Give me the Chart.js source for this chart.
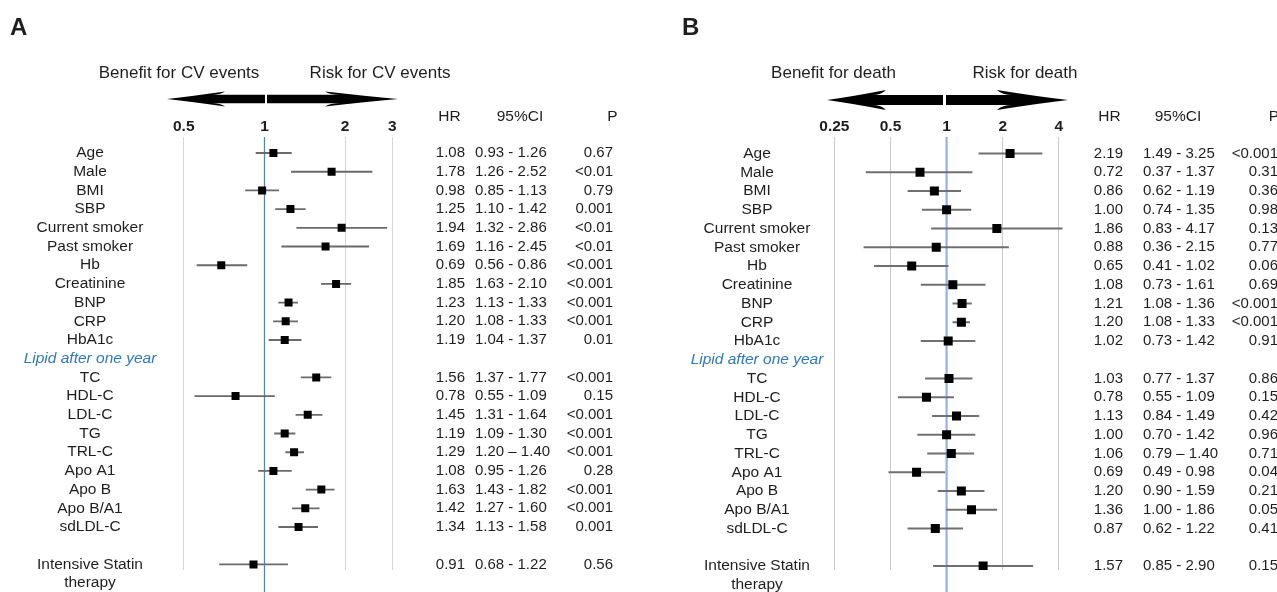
<!DOCTYPE html>
<html>
<head>
<meta charset="utf-8">
<script src="https://cdn.jsdelivr.net/npm/chart.js@4.4.1/dist/chart.umd.min.js"></script>
<style>
  html, body { margin: 0; padding: 0; background: #fff; }
  .panel { position: absolute; top: 0; height: 592px; }
  #wrapA { left: 0; width: 640px; }
  #wrapB { left: 640px; width: 637px; }
</style>
</head>
<body>
<div class="panel" id="wrapA"><canvas id="chartA"></canvas></div>
<div class="panel" id="wrapB"><canvas id="chartB"></canvas></div>
<script>
// rows, top to bottom (the lipid group heading is inserted before "TC")
const ROW_LABELS = ["Age", "Male", "BMI", "SBP", "Current smoker", "Past smoker", "Hb",
  "Creatinine", "BNP", "CRP", "HbA1c", "TC", "HDL-C", "LDL-C", "TG", "TRL-C", "Apo A1",
  "Apo B", "Apo B/A1", "sdLDL-C", "Intensive Statin\ntherapy"];
const GROUP_LABEL = "Lipid after one year";
const COL_HEADERS = ["HR", "95%CI", "P"];

// A: CV events
const A_HR = [1.08, 1.78, 0.98, 1.25, 1.94, 1.69, 0.69, 1.85, 1.23, 1.20, 1.19, 1.56, 0.78, 1.45, 1.19, 1.29, 1.08, 1.63, 1.42, 1.34, 0.91];
const A_LO = [0.93, 1.26, 0.85, 1.10, 1.32, 1.16, 0.56, 1.63, 1.13, 1.08, 1.04, 1.37, 0.55, 1.31, 1.09, 1.20, 0.95, 1.43, 1.27, 1.13, 0.68];
const A_HI = [1.26, 2.52, 1.13, 1.42, 2.86, 2.45, 0.86, 2.10, 1.33, 1.33, 1.37, 1.77, 1.09, 1.64, 1.30, 1.40, 1.26, 1.82, 1.60, 1.58, 1.22];
const A_P  = ["0.67", "<0.01", "0.79", "0.001", "<0.01", "<0.01", "<0.001", "<0.001", "<0.001", "<0.001", "0.01",
  "<0.001", "0.15", "<0.001", "<0.001", "<0.001", "0.28", "<0.001", "<0.001", "0.001", "0.56"];
const A_TICKS = [0.5, 1, 2, 3];
const A_TICK_LABELS = ["0.5", "1", "2", "3"];

// B: death
const B_HR = [2.19, 0.72, 0.86, 1.00, 1.86, 0.88, 0.65, 1.08, 1.21, 1.20, 1.02, 1.03, 0.78, 1.13, 1.00, 1.06, 0.69, 1.20, 1.36, 0.87, 1.57];
const B_LO = [1.49, 0.37, 0.62, 0.74, 0.83, 0.36, 0.41, 0.73, 1.08, 1.08, 0.73, 0.77, 0.55, 0.84, 0.70, 0.79, 0.49, 0.90, 1.00, 0.62, 0.85];
const B_HI = [3.25, 1.37, 1.19, 1.35, 4.17, 2.15, 1.02, 1.61, 1.36, 1.33, 1.42, 1.37, 1.09, 1.49, 1.42, 1.40, 0.98, 1.59, 1.86, 1.22, 2.90];
const B_P  = ["<0.001", "0.31", "0.36", "0.98", "0.13", "0.77", "0.06", "0.69", "<0.001", "<0.001", "0.91",
  "0.86", "0.15", "0.42", "0.96", "0.71", "0.04", "0.21", "0.05", "0.41", "0.15"];
const B_TICKS = [0.25, 0.5, 1, 2, 4];
const B_TICK_LABELS = ["0.25", "0.5", "1", "2", "4"];

const FONT = "'Liberation Sans', Arial, Helvetica, sans-serif";
const TEXT = "#1e1e1e";

// slot 11 holds the group heading, slot 21 is left empty
function rowPos(i) { return i < 11 ? i : i < 20 ? i + 1 : i + 2; }
const GROUP_POS = 11;

function drawArrow(ctx, from, tip, cy, headLen, headHalf, shaftHalf) {
  const d = Math.sign(tip - from);
  const back = tip - d * headLen;
  ctx.beginPath();
  ctx.moveTo(from, cy - shaftHalf);
  ctx.lineTo(back + d * headLen * 0.18, cy - shaftHalf);
  ctx.quadraticCurveTo(back + d * 2, cy - shaftHalf, back - d * 3, cy - headHalf);
  ctx.quadraticCurveTo(tip - d * headLen * 0.45, cy - shaftHalf * 0.7, tip, cy);
  ctx.quadraticCurveTo(tip - d * headLen * 0.45, cy + shaftHalf * 0.7, back - d * 3, cy + headHalf);
  ctx.quadraticCurveTo(back + d * 2, cy + shaftHalf, back + d * headLen * 0.18, cy + shaftHalf);
  ctx.lineTo(from, cy + shaftHalf);
  ctx.closePath();
  ctx.fill();
}

function forestPlugin(p) {
  return {
    id: "forest" + p.letter,
    beforeDatasetsDraw(chart) {
      const { ctx, chartArea, scales: { x } } = chart;
      const px = x.getPixelForValue(1);
      ctx.save();
      ctx.strokeStyle = p.refColor;
      ctx.lineWidth = p.refWidth;
      ctx.beginPath();
      ctx.moveTo(px, chartArea.top);
      ctx.lineTo(px, chart.height);
      ctx.stroke();
      ctx.restore();
    },
    afterDraw(chart) {
      const { ctx, scales: { y } } = chart;
      ctx.save();
      ctx.fillStyle = TEXT;

      ctx.font = `bold 24px ${FONT}`;
      ctx.textAlign = "left";
      ctx.textBaseline = "alphabetic";
      ctx.fillText(p.letter, p.letterX, 35);

      ctx.font = `17px ${FONT}`;
      ctx.textAlign = "center";
      ctx.fillText(p.benefit, p.benefitX, 78);
      ctx.fillText(p.risk, p.riskX, 78);

      ctx.fillStyle = "#000";
      const a = p.arrow;
      drawArrow(ctx, a.leftFrom, a.leftTip, a.cy, a.leftHead, a.headHalf, a.shaftHalf);
      drawArrow(ctx, a.rightFrom, a.rightTip, a.cy, a.rightHead, a.headHalf, a.shaftHalf);

      ctx.fillStyle = TEXT;
      ctx.textBaseline = "middle";
      ctx.font = `15.5px ${FONT}`;
      ctx.textAlign = "center";
      COL_HEADERS.forEach((h, k) => ctx.fillText(h, p.headerX[k], 117));

      const pitch = Math.abs(y.getPixelForValue(1) - y.getPixelForValue(0));
      ROW_LABELS.forEach((label, i) => {
        const py = y.getPixelForValue(rowPos(i));
        ctx.font = `15.5px ${FONT}`;
        ctx.textAlign = "center";
        label.split("\n").forEach((line, k) => ctx.fillText(line, p.labelX, py + k * pitch));

        ctx.font = `15px ${FONT}`;
        ctx.textAlign = "right";
        ctx.fillText(p.hr[i].toFixed(2), p.hrX, py);
        const sep = label === "TRL-C" ? " \u2013 " : " - ";
        ctx.textAlign = "left";
        ctx.fillText(p.lo[i].toFixed(2) + sep + p.hi[i].toFixed(2), p.ciX, py);
        ctx.textAlign = "right";
        ctx.fillText(p.p[i], p.pX, py);
      });

      ctx.font = `italic 15.5px ${FONT}`;
      ctx.textAlign = "center";
      ctx.fillStyle = "#2f78bd";
      ctx.fillText(GROUP_LABEL, p.labelX, y.getPixelForValue(GROUP_POS));
      ctx.restore();
    }
  };
}

function makePanel(canvasId, p) {
  const pos = ROW_LABELS.map((_, i) => rowPos(i));
  return new Chart(document.getElementById(canvasId), {
    type: "scatter",
    data: {
      datasets: [
        {
          type: "bar",
          indexAxis: "y",
          data: p.lo.map((v, i) => ({ x: [v, p.hi[i]], y: pos[i] })),
          backgroundColor: p.ciColor,
          barThickness: 1.2,
          borderWidth: 0,
          order: 2,
        },
        {
          type: "scatter",
          data: p.hr.map((v, i) => ({ x: v, y: pos[i] })),
          pointStyle: "rect",
          pointRadius: p.markSize / Math.SQRT2,
          backgroundColor: "#000",
          borderWidth: 0,
          order: 1,
        },
      ],
    },
    options: {
      responsive: true,
      maintainAspectRatio: false,
      animation: false,
      events: [],
      layout: { padding: { left: p.padLeft, right: p.padRight, top: 107, bottom: 22 } },
      plugins: { legend: { display: false }, tooltip: { enabled: false } },
      scales: {
        x: {
          type: "logarithmic",
          position: "top",
          min: p.min,
          max: p.max,
          beginAtZero: false,
          afterBuildTicks: s => { s.ticks = p.ticks.map(v => ({ value: v })); },
          afterFit: s => { s.height = 30; },
          ticks: {
            callback: (v, i) => p.tickLabels[i],
            font: { family: FONT, size: 15.5, weight: "bold" },
            color: TEXT,
            padding: 1,
            autoSkip: false,
            maxRotation: 0,
          },
          grid: {
            drawTicks: false,
            color: ctx => (ctx.tick && ctx.tick.value === 1 ? "rgba(0,0,0,0)" : p.gridColor),
          },
          border: { display: false },
        },
        y: { type: "linear", display: false, reverse: true, offset: false, min: p.yMin, max: p.yMax },
      },
    },
    plugins: [forestPlugin(p)],
  });
}

makePanel("chartA", {
  letter: "A", letterX: 10,
  benefit: "Benefit for CV events", benefitX: 179,
  risk: "Risk for CV events", riskX: 380,
  arrow: { cy: 99, leftFrom: 265, leftTip: 167, leftHead: 55, rightFrom: 267, rightTip: 398, rightHead: 70, headHalf: 7.5, shaftHalf: 4.2 },
  headerX: [449.5, 520, 612.5],
  labelX: 90, hrX: 465, ciX: 475, pX: 613,
  hr: A_HR, lo: A_LO, hi: A_HI, p: A_P,
  ticks: A_TICKS, tickLabels: A_TICK_LABELS,
  min: 0.4, max: 3.5, padLeft: 157.8, padRight: 229.7,
  yMin: -0.856, yMax: 22.299,
  gridColor: "#d6d6d6", refColor: "#4f80c6", refWidth: 1.2,
  ciColor: "#6a6a6a", markSize: 8,
});

makePanel("chartB", {
  letter: "B", letterX: 42,
  benefit: "Benefit for death", benefitX: 193.5,
  risk: "Risk for death", riskX: 385,
  arrow: { cy: 100, leftFrom: 303, leftTip: 187, leftHead: 56, rightFrom: 306, rightTip: 428, rightHead: 68, headHalf: 10, shaftHalf: 5 },
  headerX: [469.5, 538, 634],
  labelX: 117, hrX: 483, ciX: 503, pX: 638,
  hr: B_HR, lo: B_LO, hi: B_HI, p: B_P,
  ticks: B_TICKS, tickLabels: B_TICK_LABELS,
  min: 0.2, max: 5, padLeft: 176.3, padRight: 200.1,
  yMin: -0.88, yMax: 22.213,
  gridColor: "#c9c9c9", refColor: "#94b4de", refWidth: 2.2,
  ciColor: "#707070", markSize: 9,
});
</script>
</body>
</html>
